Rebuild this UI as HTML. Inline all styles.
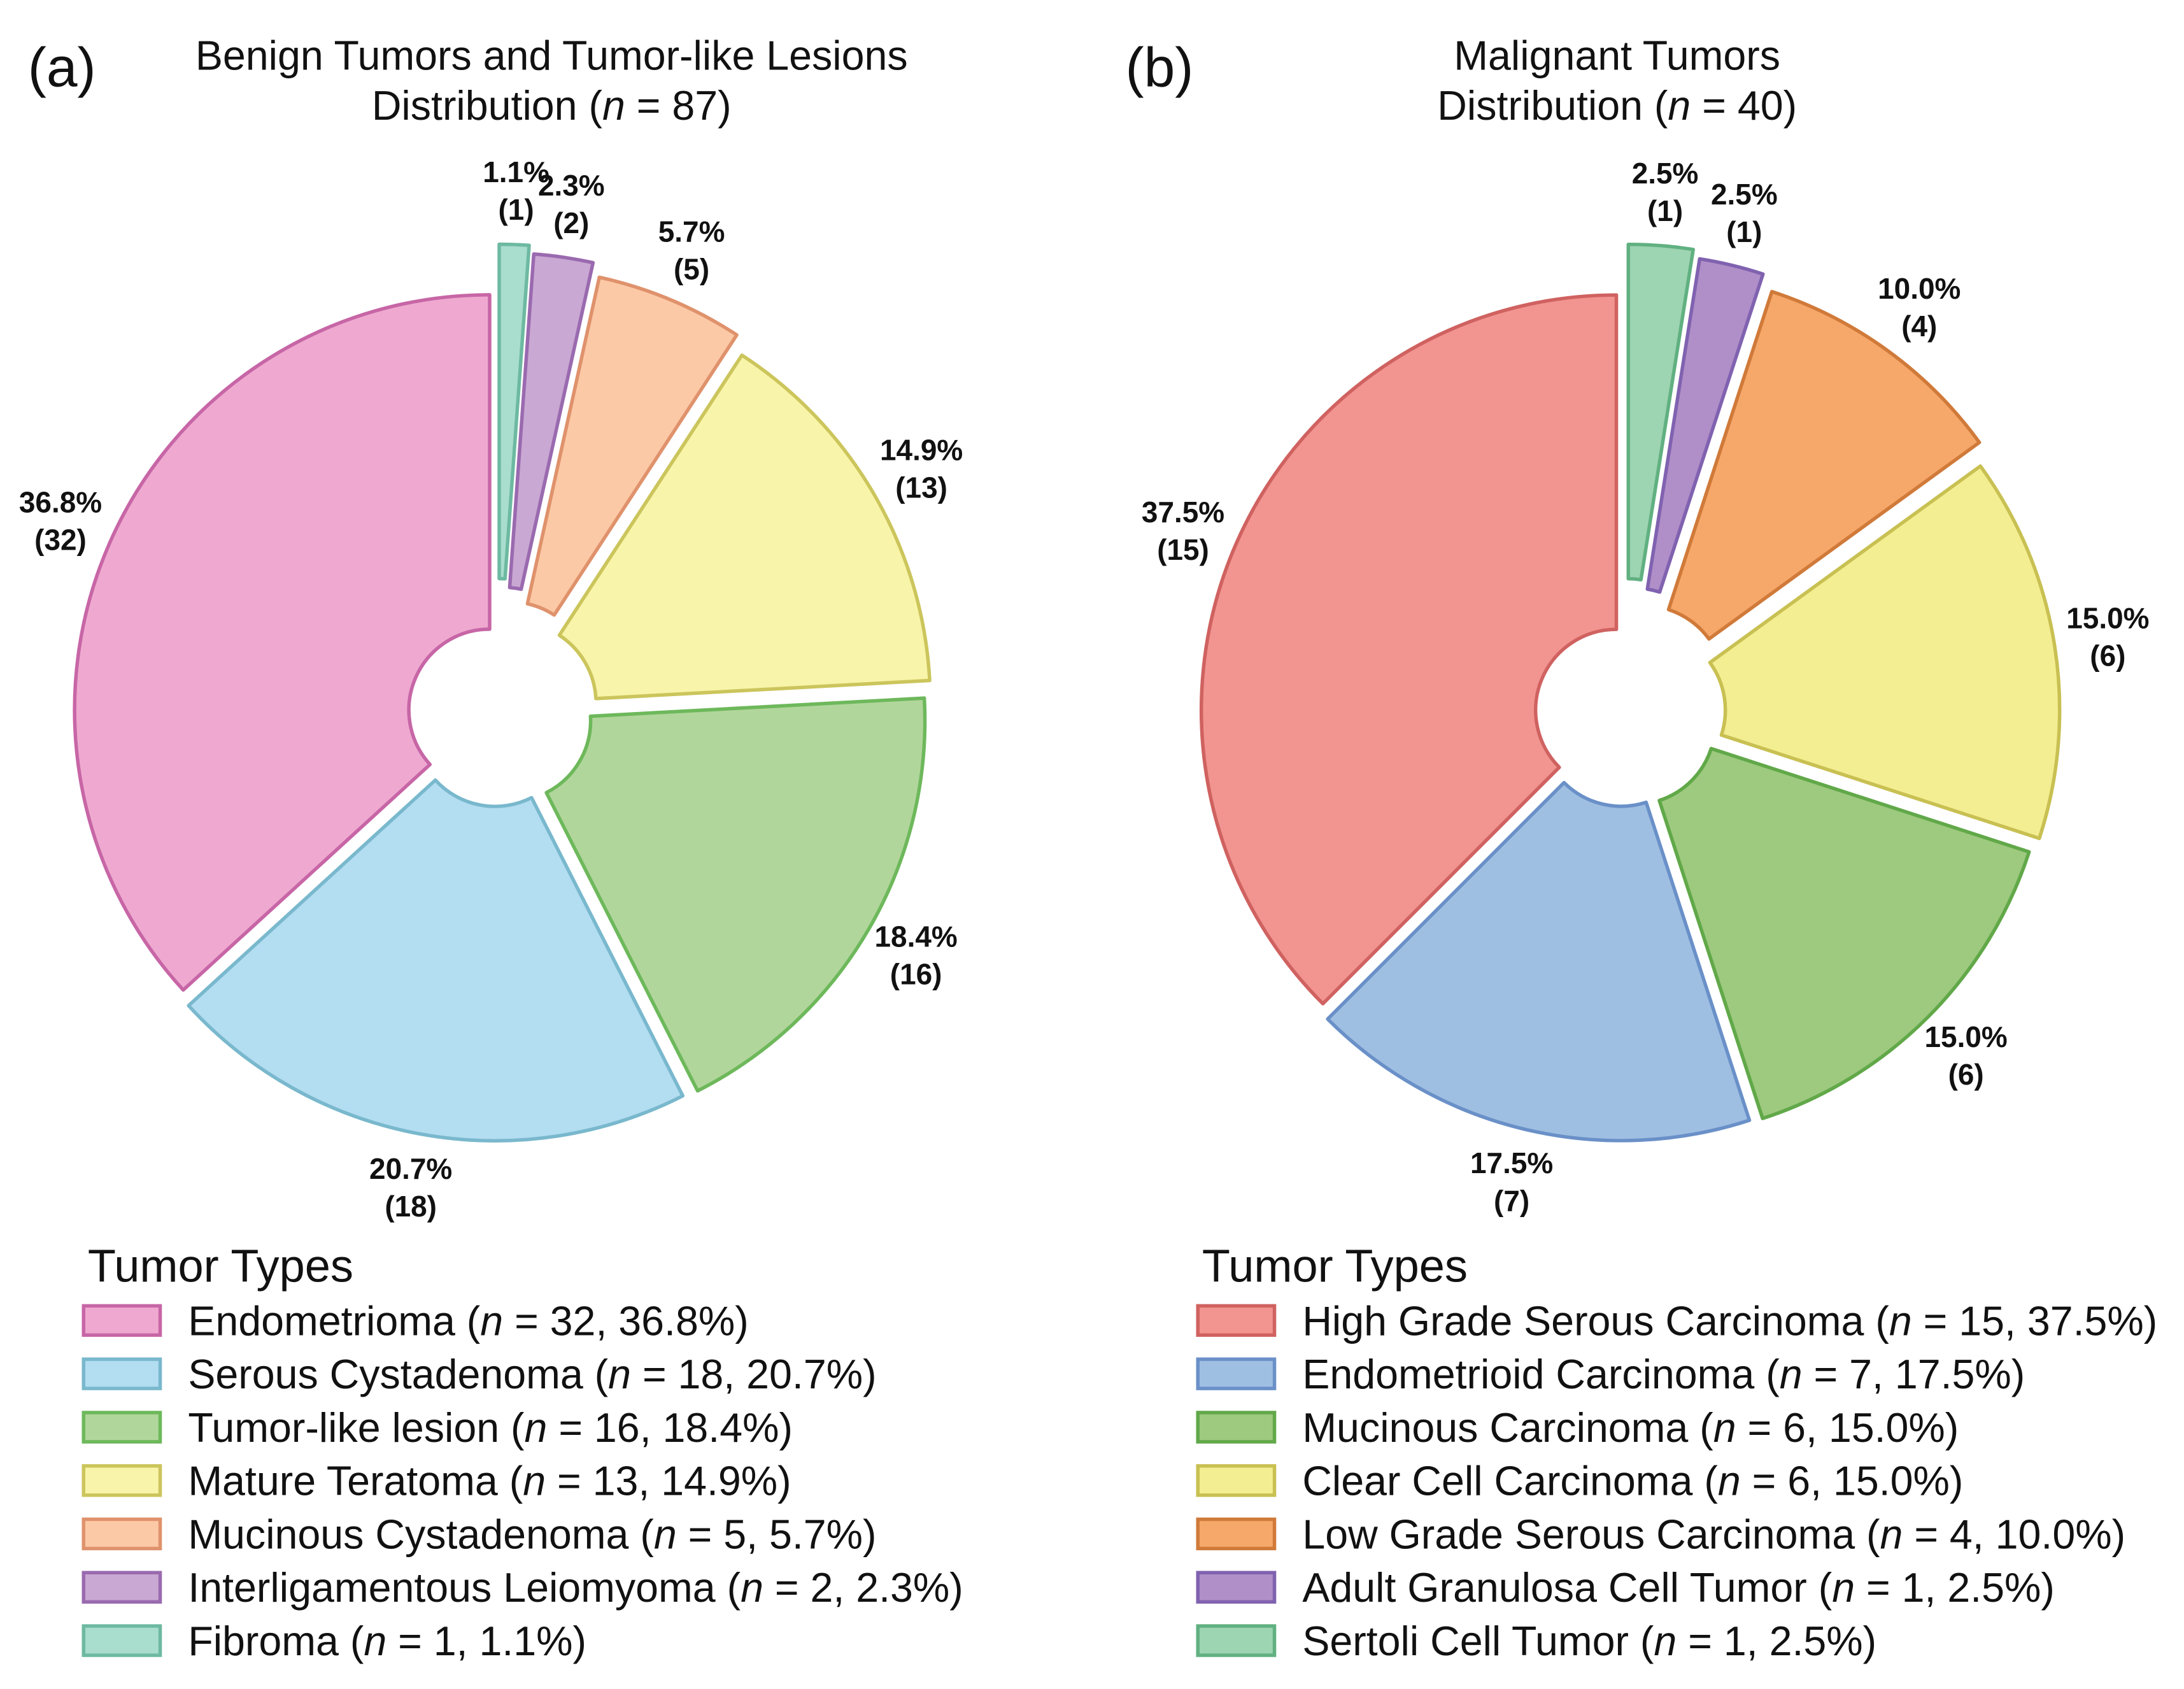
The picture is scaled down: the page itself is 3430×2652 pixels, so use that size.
<!DOCTYPE html>
<html><head><meta charset="utf-8">
<style>
html,body{margin:0;padding:0;background:#fff;}
svg{display:block;}
text{font-family:"Liberation Sans",Arial,sans-serif;fill:#111;}
</style></head>
<body>
<svg id="chart" width="3430" height="2652" viewBox="0 0 1568 1212.3" xmlns="http://www.w3.org/2000/svg">
<g id="root"></g>
</svg>
<script>
const benignLabels = ["Endometrioma","Serous Cystadenoma","Tumor-like lesion","Mature Teratoma","Mucinous Cystadenoma","Interligamentous Leiomyoma","Fibroma"];
const benignCounts = [32,18,16,13,5,2,1];
const benignPct = ["36.8%","20.7%","18.4%","14.9%","5.7%","2.3%","1.1%"];
const malignantLabels = ["High Grade Serous Carcinoma","Endometrioid Carcinoma","Mucinous Carcinoma","Clear Cell Carcinoma","Low Grade Serous Carcinoma","Adult Granulosa Cell Tumor","Sertoli Cell Tumor"];
const malignantCounts = [15,7,6,6,4,1,1];
const malignantPct = ["37.5%","17.5%","15.0%","15.0%","10.0%","2.5%","2.5%"];
const benignExplode = [0.02,0.03,0.035,0.05,0.08,0.11,0.13];
const malignantExplode = [0.02,0.03,0.035,0.05,0.08,0.11,0.13];

const benignFill = ["#efa9d0","#b3ddf1","#b1d69b","#f8f4a9","#fcc9a6","#c9a8d3","#a9ddcd"];
const benignEdge = ["#c766a6","#79b8cd","#6db85b","#cbc55c","#df926c","#9a6aaf","#6db9a1"];
const malignantFill = ["#f29490","#9fbfe2","#9dca7e","#f4ee92","#f6a86a","#b08fc8","#9dd4b1"];
const malignantEdge = ["#cf6260","#6a90c8","#61a849","#c8c052","#d07a3a","#8062b0","#61b081"];

const NS="http://www.w3.org/2000/svg";
const root=document.getElementById('root');
function mk(tag,attrs,parent){const e=document.createElementNS(NS,tag);for(const k in attrs)e.setAttribute(k,attrs[k]);(parent||root).appendChild(e);return e;}

function drawPie(cx,cy,R,hole,counts,pcts,fills,edges,explode,name){
  const g=mk('g',{});
  
  
  const total=counts.reduce((a,b)=>a+b,0);
  let ang=90;
  counts.forEach((c,i)=>{
    const sweep=360*c/total;
    const a0=ang*Math.PI/180, a1=(ang+sweep)*Math.PI/180, am=(ang+sweep/2)*Math.PI/180;
    const dx=Math.cos(am)*explode[i]*R, dy=-Math.sin(am)*explode[i]*R;
    const x=cx+dx,y=cy+dy;
    const p=(r,a)=>[x+r*Math.cos(a),y-r*Math.sin(a)];
    const [ox0,oy0]=p(R,a0),[ox1,oy1]=p(R,a1),[ix1,iy1]=p(hole,a1),[ix0,iy0]=p(hole,a0);
    const large=sweep>180?1:0;
    const d=`M${ox0},${oy0} A${R},${R} 0 ${large} 0 ${ox1},${oy1} L${ix1},${iy1} A${hole},${hole} 0 ${large} 1 ${ix0},${iy0} Z`;
    const s=mk('path',{d:d,fill:fills[i],stroke:edges[i],'stroke-width':2.5,'stroke-linejoin':'round'},g);
    
    
    const lr=R*1.13+explode[i]*R;
    const lx=cx+lr*Math.cos(am), ly=cy-lr*Math.sin(am);
    const t=mk('text',{x:lx,y:ly-6,'text-anchor':'middle','font-size':21,'font-weight':'bold'},g);
    t.textContent=pcts[i];
    
    
    const t2=mk('text',{x:lx,y:ly+21,'text-anchor':'middle','font-size':21,'font-weight':'bold'},g);
    t2.textContent='('+c+')';
    
    
    ang+=sweep;
  });
  mk('circle',{cx:cx,cy:cy,r:hole-1,fill:'#fff'},g);
}

function drawLegend(x,y,labels,counts,pcts,fills,edges,name){
  const g=mk('g',{});
  
  
  const tt=mk('text',{x:x+3,y:y,'font-size':33},g);
  tt.textContent='Tumor Types';
  
  
  labels.forEach((l,i)=>{
    const yy=y+38.3*(i+1);
    const r=mk('rect',{x:x,y:yy-21,width:55,height:21,fill:fills[i],stroke:edges[i],'stroke-width':2.5},g);
    
    
    const t=mk('text',{x:x+75,y:yy,'font-size':29.5},g);
    t.innerHTML=l+' (<tspan font-style="italic">n</tspan> = '+counts[i]+', '+pcts[i]+')';
    
    
  });
}

function title(x,panel,l1,n,px){
  const p=mk('text',{x:px,y:62,'font-size':40});p.textContent=panel;
  
  
  const a=mk('text',{x:x,y:50,'text-anchor':'middle','font-size':29.5});a.textContent=l1;
  
  
  const b=mk('text',{x:x,y:86,'text-anchor':'middle','font-size':29.5});
  b.innerHTML='Distribution (<tspan font-style="italic">n</tspan> = '+n+')';
  
  
}

title(396,'(a)','Benign Tumors and Tumor-like Lesions',87,20);
title(1161,'(b)','Malignant Tumors',40,808);
drawPie(357,512,298,58,benignCounts,benignPct,benignFill,benignEdge,benignExplode,'benign-pie');
drawPie(1166,512,298,58,malignantCounts,malignantPct,malignantFill,malignantEdge,malignantExplode,'malignant-pie');
drawLegend(60,920,benignLabels,benignCounts,benignPct,benignFill,benignEdge,'benign-legend');
drawLegend(860,920,malignantLabels,malignantCounts,malignantPct,malignantFill,malignantEdge,'malignant-legend');
</script>
</body></html>
